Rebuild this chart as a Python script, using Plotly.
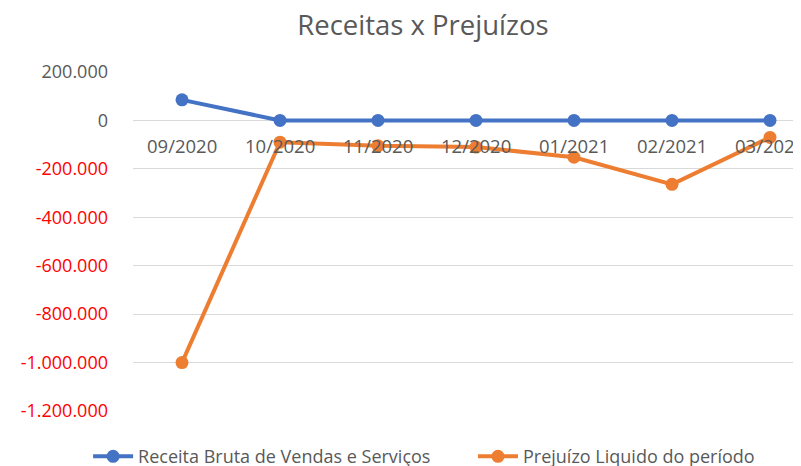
import plotly.graph_objects as go

categories = ["09/2020", "10/2020", "11/2020", "12/2020", "01/2021", "02/2021", "03/2021"]
receita = [85000, 0, 0, 0, 0, 0, 0]
prejuizo = [-1000000, -90000, -105000, -110000, -152000, -264000, -70000]
tick_vals = [200000, 0, -200000, -400000, -600000, -800000, -1000000, -1200000]

def fmt(v):
    s = f"{abs(v):,}".replace(",", ".")
    if v < 0:
        return f'<span style="color:#FF0000">-{s}</span>'
    return s

tick_text = [fmt(v) for v in tick_vals]
FONT = "Open Sans"
GRAY = "#595959"

x_idx = list(range(len(categories)))

fig = go.Figure()
fig.add_trace(go.Scatter(
    x=x_idx, y=receita, mode="lines+markers", name="Receita Bruta de Vendas e Serviços",
    line=dict(color="#4472C4", width=4), marker=dict(color="#4472C4", size=13),
    legend="legend",
))
fig.add_trace(go.Scatter(
    x=x_idx, y=prejuizo, mode="lines+markers", name="Prejuízo Liquido do período",
    line=dict(color="#ED7D31", width=4), marker=dict(color="#ED7D31", size=13),
    legend="legend2",
))

for i, c in enumerate(categories):
    fig.add_annotation(x=i, y=0, xref="x", yref="y", text=c, showarrow=False,
                       yanchor="top", yshift=-11, font=dict(family=FONT, size=18.5, color=GRAY))

legend_common = dict(orientation="h", xref="container", xanchor="left", y=-0.08, yanchor="top",
                     font=dict(family=FONT, size=18, color=GRAY), itemwidth=40,
                     bgcolor="rgba(0,0,0,0)")

fig.update_layout(
    width=801, height=466, autosize=False,
    paper_bgcolor="white", plot_bgcolor="white",
    margin=dict(l=125, r=0, t=64, b=63, autoexpand=False),
    title=dict(text="Receitas x Prejuízos", x=0.518, xref="container", xanchor="center",
               y=0.9635, yref="container", yanchor="middle", automargin=False,
               font=dict(family=FONT, size=27.5, color=GRAY)),
    font=dict(family=FONT, size=18, color=GRAY),
    showlegend=True,
    legend=dict(x=0.1, **legend_common),
    legend2=dict(x=0.5805, **legend_common),
    xaxis=dict(range=[-0.5, 6.398], showgrid=False, zeroline=False, showticklabels=False,
               showline=False, ticks="", automargin=False),
    yaxis=dict(range=[-1200000, 200000], tickvals=tick_vals, ticktext=tick_text,
               showgrid=True, gridcolor="#D9D9D9", gridwidth=1, zeroline=False, automargin=False,
               ticks="", showline=False, ticklabelstandoff=24,
               tickfont=dict(family=FONT, size=18, color=GRAY)),
)

fig.write_html("out.html")
